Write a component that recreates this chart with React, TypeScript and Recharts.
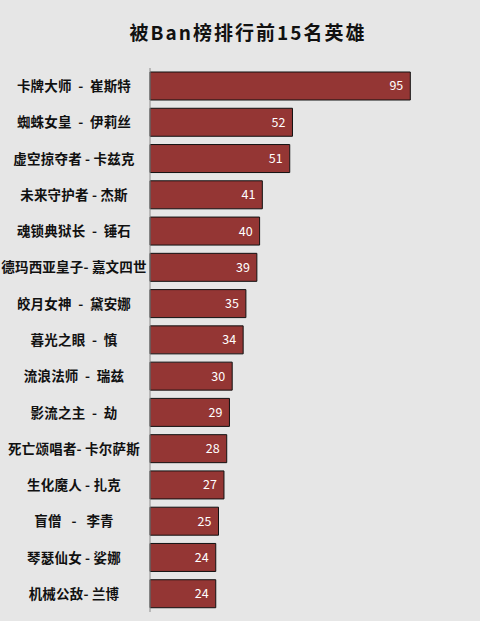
import { Bar, BarChart, LabelList, XAxis, YAxis } from "recharts";

// spacing around the dash follows the reference labels
const heroes = [
  "卡牌大师  -  崔斯特",
  "蜘蛛女皇  -  伊莉丝",
  "虚空掠夺者 - 卡兹克",
  "未来守护者 - 杰斯",
  "魂锁典狱长  -  锤石",
  "德玛西亚皇子- 嘉文四世",
  "皎月女神  -  黛安娜",
  "暮光之眼  -  慎",
  "流浪法师  -  瑞兹",
  "影流之主  -  劫",
  "死亡颂唱者- 卡尔萨斯",
  "生化魔人 - 扎克",
  "盲僧   -   李青",
  "琴瑟仙女 - 娑娜",
  "机械公敌- 兰博",
];

const banCounts = [95, 52, 51, 41, 40, 39, 35, 34, 30, 29, 28, 27, 25, 24, 24];

const chartData = heroes.map((name, i) => ({ name, total: banCounts[i] }));

const font = "'Noto Sans CJK SC', 'Open Sans', sans-serif";

function HeroTick({ y, payload }: any) {
  return (
    <text
      x={74}
      y={y}
      dy={5}
      textAnchor="middle"
      fontSize={13.5}
      fontWeight="bold"
      letterSpacing={0.2}
      fill="#111"
      fontFamily={font}
      style={{ whiteSpace: "pre" }}
    >
      {payload.value}
    </text>
  );
}

export default function App() {
  return (
    <div
      style={{
        position: "fixed",
        top: 0,
        left: 0,
        width: 480,
        height: 621,
        background: "#e6e6e6",
        fontFamily: font,
      }}
    >
      <div
        style={{
          position: "absolute",
          top: 18,
          left: 0,
          width: 496,
          textAlign: "center",
          fontSize: 19,
          fontWeight: "bold",
          letterSpacing: 2,
          color: "#111",
        }}
      >
        被Ban榜排行前15名英雄
      </div>
      <BarChart
        width={480}
        height={621}
        data={chartData}
        layout="vertical"
        margin={{ top: 68, right: 56, bottom: 9, left: 0 }}
      >
        <XAxis type="number" domain={[0, 100]} hide />
        <YAxis
          type="category"
          dataKey="name"
          width={150}
          axisLine={{ stroke: "#8c8c8c" }}
          tickLine={false}
          tick={<HeroTick />}
          interval={0}
        />
        <Bar
          dataKey="total"
          fill="#943634"
          stroke="#111"
          strokeWidth={1}
          barSize={28}
          isAnimationActive={false}
        >
          <LabelList
            dataKey="total"
            position="insideRight"
            offset={7}
            fill="#fff"
            fontSize={12.5}
            fontFamily={font}
          />
        </Bar>
      </BarChart>
    </div>
  );
}
